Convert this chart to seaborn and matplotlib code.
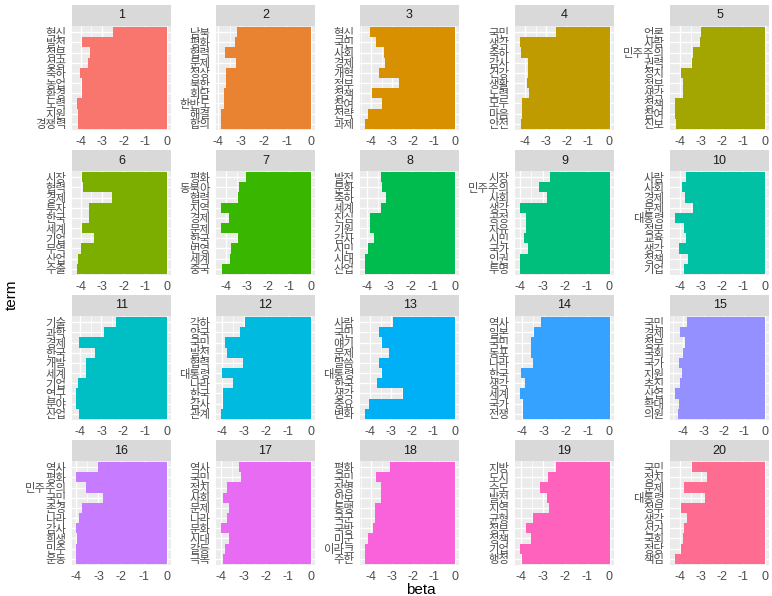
import numpy as np
import pandas as pd
import matplotlib
matplotlib.use("Agg")
import matplotlib.pyplot as plt
import seaborn as sns

# Top terms per topic with their log10 beta
topics = list(range(1, 21))

terms = [
    ["혁신", "발전", "정부", "성공", "축하", "농업", "환경", "노력", "지원", "경쟁력"],
    ["남북", "평화", "협력", "문제", "정상", "북한", "회담", "한반도", "해결", "합의"],
    ["혁신", "국민", "사회", "경제", "개혁", "정부", "정책", "참여", "전략", "과제"],
    ["국민", "생각", "축하", "감사", "건강", "생활", "노력", "모두", "마음", "안전"],
    ["언론", "사람", "민주주의", "권력", "정치", "정부", "생각", "정책", "참여", "진보"],
    ["시장", "협력", "경제", "투자", "한국", "세계", "기업", "무역", "산업", "수출"],
    ["평화", "동북아", "협력", "지역", "경제", "문제", "한국", "번영", "세계", "중국"],
    ["발전", "문화", "축하", "세계", "진심", "기원", "감사", "시민", "시대", "산업"],
    ["시장", "민주주의", "사회", "생각", "공정", "자유", "시민", "국가", "인권", "투명"],
    ["사람", "사회", "경제", "문제", "대통령", "정부", "교육", "생각", "정책", "기업"],
    ["기술", "과학", "경제", "한국", "개발", "세계", "기업", "연구", "분야", "산업"],
    ["각하", "양국", "국민", "발전", "협력", "대통령", "나라", "한국", "감사", "관계"],
    ["사람", "국민", "얘기", "문제", "말씀", "대통령", "한국", "생각", "중요", "변화"],
    ["역사", "일본", "국민", "동포", "나라", "한국", "생각", "세계", "국가", "전쟁"],
    ["국민", "경제", "정부", "국회", "국가", "지원", "추진", "산업", "확대", "의원"],
    ["역사", "평화", "민주주의", "국민", "존경", "나라", "감사", "희생", "민주", "운동"],
    ["역사", "국민", "정치", "사회", "문제", "나라", "문화", "시대", "갈등", "극복"],
    ["평화", "국민", "장병", "안보", "동맹", "국군", "국방", "미군", "이라크", "주한"],
    ["지방", "도시", "수도", "발전", "지역", "균형", "정부", "정책", "기업", "행정"],
    ["국민", "정치", "문제", "대통령", "정부", "생각", "선거", "국회", "정당", "책임"],
]

betas = [
    [-2.50, -3.92, -3.55, -3.67, -4.02, -3.92, -3.95, -4.19, -4.14, -4.14],
    [-3.17, -3.28, -3.71, -3.24, -3.67, -3.67, -3.76, -3.76, -3.90, -3.90],
    [-4.05, -3.75, -3.37, -3.32, -3.62, -2.66, -3.94, -3.46, -4.13, -4.32],
    [-2.53, -4.27, -4.22, -3.89, -3.89, -3.92, -3.84, -4.13, -4.17, -4.22],
    [-2.99, -3.04, -3.40, -3.46, -3.94, -3.87, -3.89, -4.27, -4.27, -4.22],
    [-3.95, -3.88, -2.56, -3.61, -3.61, -3.95, -3.38, -4.00, -4.14, -4.19],
    [-3.08, -3.37, -3.42, -4.27, -3.89, -4.27, -3.46, -3.79, -3.84, -4.22],
    [-3.35, -3.30, -3.12, -3.35, -3.85, -3.85, -3.67, -3.98, -4.08, -4.12],
    [-2.65, -3.14, -2.79, -3.99, -3.76, -3.76, -3.81, -3.63, -3.99, -4.03],
    [-3.72, -3.91, -3.76, -3.39, -4.28, -3.81, -3.72, -4.05, -3.62, -3.81],
    [-2.35, -2.86, -4.02, -3.28, -3.69, -3.69, -4.06, -4.15, -4.15, -4.02],
    [-2.94, -3.16, -3.84, -3.75, -3.03, -3.97, -3.48, -3.93, -3.93, -4.06],
    [-2.91, -3.56, -3.46, -3.13, -3.56, -3.42, -3.70, -2.43, -4.08, -4.27],
    [-3.12, -3.44, -3.58, -3.58, -3.48, -4.03, -3.89, -4.12, -3.94, -3.98],
    [-3.80, -4.15, -3.90, -4.00, -4.24, -4.05, -4.15, -4.44, -4.24, -4.29],
    [-3.04, -3.97, -3.57, -2.78, -3.71, -3.88, -3.97, -3.93, -3.97, -3.97],
    [-3.18, -3.13, -3.76, -3.94, -3.67, -3.72, -4.03, -3.67, -3.81, -3.94],
    [-3.12, -3.79, -3.55, -3.55, -3.84, -3.84, -3.89, -4.13, -4.32, -4.32],
    [-2.41, -2.77, -3.13, -2.82, -2.73, -3.45, -3.76, -3.54, -4.07, -3.94],
    [-3.46, -2.71, -3.80, -2.81, -3.98, -3.70, -3.80, -3.89, -3.94, -4.27],
]

palette = ["#F8766D", "#EA8331", "#D89000", "#C09B00", "#A3A500",
           "#7CAE00", "#39B600", "#00BB4E", "#00BF7D", "#00C1A3",
           "#00BFC4", "#00BAE0", "#00B0F6", "#35A2FF", "#9590FF",
           "#C77CFF", "#E76BF3", "#FA62DB", "#FF62BC", "#FF6C91"]

sns.set_theme(style="darkgrid", rc={
    "axes.facecolor": "#EBEBEB",
    "grid.color": "white",
})
plt.rcParams["font.family"] = ["Liberation Sans", "Noto Sans CJK KR"]
plt.rcParams["axes.unicode_minus"] = False

FW, FH = 772, 596
fig = plt.figure(figsize=(FW / 100, FH / 100), dpi=100)

col_left = [72, 216, 360, 515, 670]
row_top = [26, 171, 316, 461]
PW, PH, SH = 99, 104, 21


def rect(x, y, w, h):
    return [x / FW, 1 - (y + h) / FH, w / FW, h / FH]


for i, topic in enumerate(topics):
    r, c = divmod(i, 5)
    x0, y0 = col_left[c], row_top[r]

    ax = fig.add_axes(rect(x0, y0, PW, PH))
    df = pd.DataFrame({"term": terms[i], "beta": betas[i]})
    sns.barplot(data=df, x="beta", y="term", order=terms[i], orient="h",
                color=palette[i], saturation=1, width=0.99, errorbar=None,
                linewidth=0, ax=ax, zorder=3)

    lo = min(betas[i])
    span = -lo
    xmin, xmax = lo - 0.05 * span, 0.05 * span
    ax.set_xlim(xmin, xmax)
    ax.set_ylim(len(terms[i]) - 0.4, -0.6)

    major = [v for v in range(-5, 1) if xmin <= v <= xmax]
    minor = [v + 0.5 for v in range(-5, 0) if xmin <= v + 0.5 <= xmax]
    ax.set_xticks(major)
    ax.set_xticklabels([str(v) for v in major])
    ax.set_xticks(minor, minor=True)
    ax.grid(which="major", axis="both", color="white", linewidth=1.0, zorder=0)
    ax.grid(which="minor", axis="x", color="white", linewidth=0.5, zorder=0)
    ax.set_axisbelow(True)

    ax.tick_params(axis="both", which="major", length=2.5, width=0.6,
                   color="#333333", labelcolor="#4D4D4D", pad=1.5)
    ax.tick_params(axis="x", labelsize=9)
    ax.tick_params(axis="y", labelsize=8.2)
    ax.tick_params(which="minor", length=0)
    ax.set_xlabel("")
    ax.set_ylabel("")
    for s in ax.spines.values():
        s.set_visible(False)

    sx = fig.add_axes(rect(x0, y0 - SH, PW, SH))
    sx.set_facecolor("#D9D9D9")
    sx.set_xticks([])
    sx.set_yticks([])
    sx.grid(False)
    for s in sx.spines.values():
        s.set_visible(False)
    sx.text(0.5, 0.5, str(topic), ha="center", va="center",
            fontsize=9, color="#1A1A1A", transform=sx.transAxes)

fig.text(421 / FW, 1 - 590 / FH, "beta", ha="center", va="center",
         fontsize=11, color="black")
fig.text(12 / FW, 1 - 295 / FH, "term", ha="center", va="center",
         rotation=90, fontsize=11, color="black")

fig.savefig("out.png", dpi=100, facecolor="white")
